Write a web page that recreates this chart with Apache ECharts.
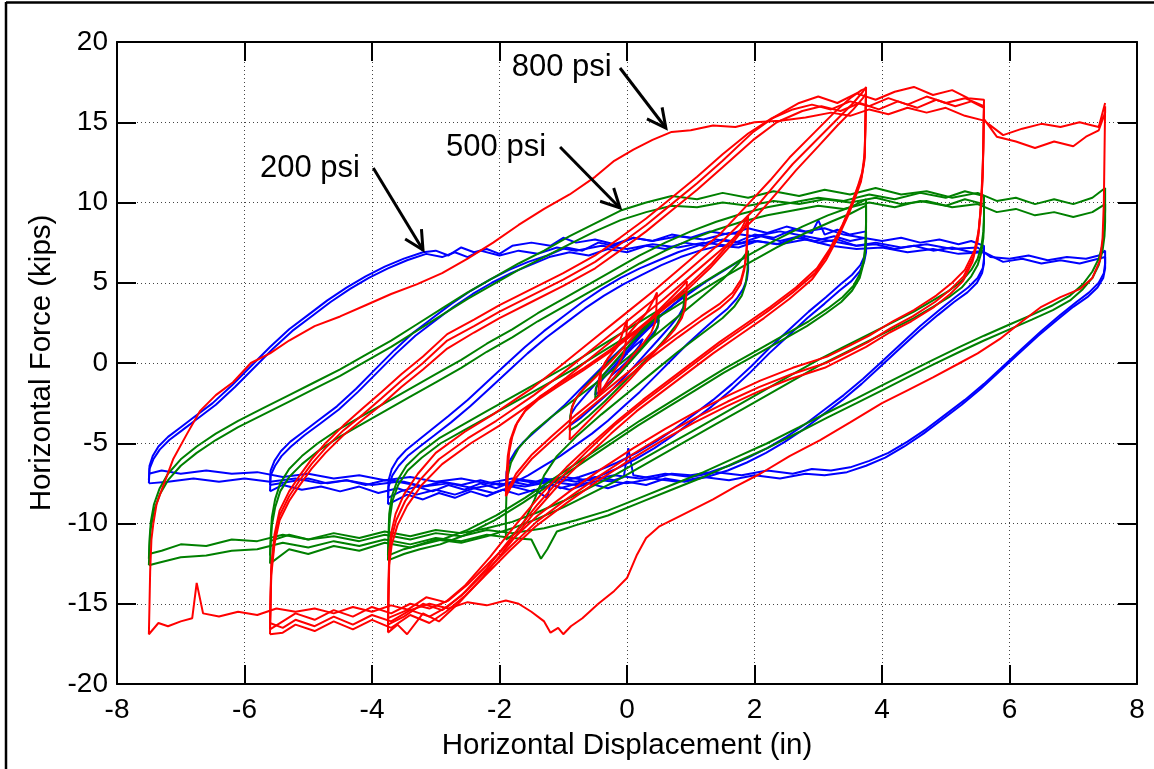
<!DOCTYPE html>
<html>
<head>
<meta charset="utf-8">
<script src="https://cdn.jsdelivr.net/npm/echarts@6/dist/echarts.min.js"></script>
<style>
html,body{margin:0;padding:0;background:#fff;}
#chart{width:1154px;height:769px;}
</style>
</head>
<body>
<div id="chart"></div>
<script>
// ---------- axis definitions ----------
const xMin = -8, xMax = 8, xStep = 2;
const yMin = -20, yMax = 20, yStep = 5;
const xTitle = 'Horizontal Displacement (in)';
const yTitle = 'Horizontal Force (kips)';

// ---------- 200 psi (blue) loops: [displacement, force] ----------
const blue75a = [[-7.5,-7.3],[-7.49,-6.4],[-7.44,-5.8],[-7.35,-5.2],[-7.2,-4.6],[-7.0,-4.0],[-6.8,-3.4],[-6.5,-2.5],[-6.2,-1.4],[-5.9,-0.2],[-5.6,1.0],[-5.3,2.1],[-5.0,3.0],[-4.7,3.9],[-4.4,4.7],[-4.1,5.4],[-3.8,6.0],[-3.5,6.5],[-3.2,6.9],[-3.0,7.0],[-2.8,6.7],[-2.6,7.2],[-2.4,6.9],[-2.2,7.1],[-2.0,6.8],[-1.8,7.3],[-1.5,7.5],[-1.2,7.3],[-1.0,7.8],[-0.8,7.5],[-0.5,7.7],[-0.2,7.4],[0.1,7.8],[0.4,7.6],[0.8,7.9],[1.2,7.7],[1.6,8.1],[2.0,7.9],[2.4,8.2],[2.8,7.9],[3.2,7.6],[3.6,7.3],[3.9,7.5],[4.3,7.2],[4.7,7.4],[5.1,7.1],[5.5,7.2],[5.7,6.6],[6.0,6.5],[6.3,6.7],[6.6,6.4],[6.9,6.6],[7.2,6.5],[7.4,6.7],[7.5,7.0],
  [7.5,6.2],[7.48,5.6],[7.4,5.0],[7.25,4.4],[7.05,3.8],[6.8,3.0],[6.5,2.0],[6.2,0.9],[5.9,-0.2],[5.6,-1.3],[5.3,-2.3],[5.0,-3.2],[4.7,-4.1],[4.4,-4.9],[4.1,-5.6],[3.8,-6.1],[3.5,-6.5],[3.2,-6.7],[2.9,-6.6],[2.6,-6.9],[2.2,-6.7],[1.8,-7.0],[1.4,-6.8],[1.0,-7.1],[0.6,-6.9],[0.2,-7.2],[-0.2,-7.0],[-0.6,-7.3],[-1.0,-7.1],[-1.4,-7.4],[-1.8,-7.2],[-2.2,-7.5],[-2.6,-7.2],[-3.0,-7.4],[-3.4,-7.1],[-3.8,-7.3],[-4.2,-7.0],[-4.6,-7.2],[-5.0,-6.9],[-5.4,-7.1],[-5.8,-6.8],[-6.2,-6.9],[-6.6,-6.7],[-7.0,-6.9],[-7.3,-6.7],[-7.5,-6.9]];
const blue75b = [[-7.5,-7.5],[-7.49,-6.6],[-7.43,-6.0],[-7.33,-5.4],[-7.18,-4.8],[-6.98,-4.2],[-6.75,-3.5],[-6.45,-2.6],[-6.15,-1.5],[-5.85,-0.3],[-5.55,0.9],[-5.25,2.0],[-4.95,2.9],[-4.65,3.8],[-4.35,4.6],[-4.05,5.3],[-3.75,5.9],[-3.45,6.4],[-3.15,6.8],[-2.9,6.6],[-2.7,6.9],[-2.5,6.6],[-2.3,7.0],[-2.0,6.7],[-1.7,7.0],[-1.4,6.8],[-1.1,7.2],[-0.8,7.0],[-0.4,7.3],[0,7.1],[0.4,7.4],[0.8,7.2],[1.2,7.5],[1.6,7.3],[2.0,7.6],[2.4,7.4],[2.8,7.7],[3.2,7.3],[3.6,7.1],[4.0,7.2],[4.4,6.9],[4.8,7.1],[5.2,6.8],[5.6,6.9],[5.9,6.3],[6.2,6.5],[6.5,6.2],[6.8,6.4],[7.1,6.2],[7.3,6.4],[7.5,6.6],
  [7.5,5.9],[7.47,5.3],[7.38,4.7],[7.22,4.1],[7.0,3.5],[6.75,2.7],[6.45,1.7],[6.15,0.6],[5.85,-0.5],[5.55,-1.6],[5.25,-2.6],[4.95,-3.5],[4.65,-4.4],[4.35,-5.2],[4.05,-5.9],[3.75,-6.4],[3.45,-6.8],[3.1,-7.0],[2.8,-6.9],[2.4,-7.2],[2.0,-7.0],[1.6,-7.3],[1.2,-7.1],[0.8,-7.4],[0.4,-7.2],[0,-7.5],[-0.4,-7.3],[-0.8,-7.6],[-1.2,-7.4],[-1.6,-7.7],[-2.0,-7.5],[-2.4,-7.8],[-2.8,-7.5],[-3.2,-7.7],[-3.6,-7.4],[-4.0,-7.6],[-4.4,-7.3],[-4.8,-7.5],[-5.2,-7.2],[-5.6,-7.4],[-6.0,-7.2],[-6.4,-7.4],[-6.8,-7.2],[-7.2,-7.4],[-7.5,-7.5]];
const blue56a = [[-5.6,-7.6],[-5.59,-6.7],[-5.53,-6.1],[-5.43,-5.5],[-5.28,-4.9],[-5.08,-4.3],[-4.85,-3.6],[-4.55,-2.7],[-4.25,-1.6],[-3.95,-0.4],[-3.65,0.8],[-3.35,1.9],[-3.05,2.8],[-2.75,3.7],[-2.45,4.5],[-2.15,5.2],[-1.85,5.8],[-1.55,6.3],[-1.25,6.7],[-0.95,7.2],[-0.7,7.0],[-0.45,7.5],[-0.2,7.3],[0.1,7.8],[0.4,7.6],[0.7,8.0],[1.0,7.8],[1.3,8.2],[1.6,8.0],[1.9,8.4],[2.2,8.1],[2.5,8.5],[2.8,8.2],[3.1,8.4],[3.4,8.0],[3.7,7.8],[4.0,7.6],[4.3,7.8],[4.6,7.5],[4.9,7.7],[5.2,7.4],[5.4,7.6],[5.6,7.3],
  [5.6,6.5],[5.58,5.9],[5.5,5.3],[5.35,4.7],[5.15,4.1],[4.9,3.3],[4.6,2.3],[4.3,1.2],[4.0,0.1],[3.7,-1.0],[3.4,-2.0],[3.1,-2.9],[2.8,-3.8],[2.5,-4.6],[2.2,-5.3],[1.9,-5.9],[1.6,-6.4],[1.3,-6.8],[1.0,-7.0],[0.7,-6.9],[0.4,-7.2],[0.1,-7.0],[0.02,-5.3],[-0.05,-7.1],[-0.2,-7.3],[-0.5,-7.1],[-0.8,-7.4],[-1.1,-7.2],[-1.4,-7.5],[-1.7,-7.3],[-2.0,-7.6],[-2.3,-7.3],[-2.6,-7.6],[-2.9,-7.4],[-3.2,-7.7],[-3.5,-7.4],[-3.8,-7.3],[-4.1,-7.6],[-4.4,-7.3],[-4.7,-7.5],[-5.0,-7.2],[-5.3,-7.4],[-5.6,-7.6]];
const blue56b = [[-5.6,-8.0],[-5.59,-7.0],[-5.52,-6.4],[-5.42,-5.8],[-5.27,-5.2],[-5.06,-4.5],[-4.82,-3.8],[-4.52,-2.9],[-4.22,-1.8],[-3.92,-0.6],[-3.62,0.6],[-3.32,1.7],[-3.02,2.6],[-2.72,3.5],[-2.42,4.3],[-2.12,5.0],[-1.82,5.6],[-1.52,6.1],[-1.22,6.6],[-0.9,6.9],[-0.6,6.7],[-0.3,7.1],[0,6.9],[0.3,7.3],[0.6,7.1],[0.9,7.5],[1.2,7.3],[1.5,7.7],[1.8,7.5],[2.1,7.9],[2.4,7.6],[2.7,7.9],[3.0,7.5],[3.3,7.7],[3.6,7.3],[3.9,7.4],[4.2,7.1],[4.5,7.3],[4.8,7.0],[5.1,7.2],[5.4,6.9],[5.6,7.0],
  [5.6,6.2],[5.57,5.6],[5.49,5.0],[5.34,4.4],[5.13,3.8],[4.88,3.0],[4.58,2.0],[4.28,0.9],[3.98,-0.2],[3.68,-1.3],[3.38,-2.3],[3.08,-3.2],[2.78,-4.1],[2.48,-4.9],[2.18,-5.6],[1.88,-6.2],[1.58,-6.7],[1.25,-7.1],[0.9,-7.4],[0.6,-7.2],[0.3,-7.6],[0,-7.4],[-0.3,-7.8],[-0.6,-7.5],[-0.9,-7.9],[-1.2,-7.6],[-1.5,-8.0],[-1.8,-7.7],[-2.1,-8.1],[-2.4,-7.8],[-2.7,-8.2],[-3.0,-7.9],[-3.3,-8.2],[-3.6,-7.8],[-3.9,-8.1],[-4.2,-7.7],[-4.5,-8.0],[-4.8,-7.7],[-5.1,-7.9],[-5.4,-7.6],[-5.6,-8.0]];
const blue375a = [[-3.75,-8.4],[-3.74,-7.3],[-3.69,-6.6],[-3.6,-6.0],[-3.46,-5.4],[-3.27,-4.8],[-3.05,-4.1],[-2.8,-3.3],[-2.5,-2.3],[-2.2,-1.2],[-1.9,-0.1],[-1.6,1.0],[-1.3,2.0],[-1.0,2.9],[-0.7,3.8],[-0.4,4.6],[-0.1,5.3],[0.2,5.9],[0.5,6.4],[0.8,6.9],[1.1,7.3],[1.4,7.7],[1.7,7.5],[2.0,8.0],[2.3,7.8],[2.6,8.3],[2.9,8.1],[3.0,8.9],[3.1,8.0],[3.3,8.3],[3.5,8.0],[3.75,8.2],
  [3.75,7.3],[3.73,6.7],[3.66,6.1],[3.53,5.5],[3.35,4.9],[3.12,4.1],[2.85,3.2],[2.55,2.1],[2.25,1.0],[1.95,-0.2],[1.65,-1.3],[1.35,-2.3],[1.05,-3.2],[0.75,-4.1],[0.45,-4.9],[0.15,-5.6],[-0.15,-6.2],[-0.45,-6.7],[-0.75,-7.1],[-1.05,-7.4],[-1.3,-7.2],[-1.55,-7.6],[-1.8,-7.4],[-2.05,-7.8],[-2.3,-7.5],[-2.55,-7.9],[-2.8,-7.6],[-3.05,-8.0],[-3.3,-7.7],[-3.55,-8.0],[-3.75,-8.4]];
const blue375b = [[-3.75,-8.8],[-3.74,-7.7],[-3.68,-7.0],[-3.58,-6.4],[-3.44,-5.8],[-3.25,-5.2],[-3.02,-4.5],[-2.76,-3.7],[-2.46,-2.7],[-2.16,-1.6],[-1.86,-0.5],[-1.56,0.6],[-1.26,1.6],[-0.96,2.5],[-0.66,3.4],[-0.36,4.2],[-0.06,4.9],[0.24,5.5],[0.54,6.1],[0.84,6.6],[1.14,7.0],[1.45,7.3],[1.75,7.2],[2.05,7.6],[2.35,7.4],[2.65,7.8],[2.95,7.6],[3.25,7.9],[3.5,7.6],[3.75,7.8],
  [3.75,6.9],[3.72,6.3],[3.65,5.7],[3.52,5.1],[3.33,4.5],[3.1,3.7],[2.83,2.8],[2.53,1.7],[2.23,0.6],[1.93,-0.6],[1.63,-1.7],[1.33,-2.7],[1.03,-3.6],[0.73,-4.5],[0.43,-5.3],[0.13,-6.0],[-0.17,-6.6],[-0.47,-7.1],[-0.77,-7.5],[-1.05,-7.8],[-1.2,-7.5],[-1.25,-8.4],[-1.45,-7.9],[-1.7,-8.2],[-1.95,-7.9],[-2.2,-8.3],[-2.45,-8.0],[-2.7,-8.4],[-2.95,-8.1],[-3.2,-8.5],[-3.45,-8.2],[-3.65,-8.6],[-3.75,-8.8]];
const blue19 = [[-1.9,-7.8],[-1.89,-6.8],[-1.84,-6.1],[-1.75,-5.5],[-1.62,-4.9],[-1.45,-4.3],[-1.25,-3.6],[-1.0,-2.7],[-0.75,-1.7],[-0.5,-0.7],[-0.25,0.3],[0,1.2],[0.25,2.1],[0.5,2.9],[0.75,3.7],[1.0,4.4],[1.25,5.1],[1.5,5.7],[1.7,6.2],[1.9,6.7],
  [1.9,5.8],[1.88,5.2],[1.82,4.6],[1.72,4.0],[1.58,3.4],[1.4,2.8],[1.2,2.1],[0.95,1.2],[0.7,0.2],[0.45,-0.8],[0.2,-1.8],[-0.05,-2.7],[-0.3,-3.6],[-0.55,-4.4],[-0.8,-5.1],[-1.05,-5.8],[-1.3,-6.4],[-1.55,-7.0],[-1.75,-7.4],[-1.9,-7.8]];
const blue09 = [[-0.9,-3.9],[-0.88,-3.2],[-0.8,-2.7],[-0.65,-2.0],[-0.45,-1.1],[-0.2,0.0],[0.05,1.1],[0.3,2.1],[0.55,3.0],[0.75,3.7],[0.9,4.2],[0.89,3.5],[0.82,3.0],[0.68,2.3],[0.48,1.4],[0.23,0.3],[-0.02,-0.8],[-0.27,-1.8],[-0.52,-2.7],[-0.72,-3.4],[-0.9,-3.9]];
const blue05 = [[-0.5,-2.0],[-0.48,-1.5],[-0.38,-1.0],[-0.2,-0.2],[0,0.7],[0.2,1.6],[0.38,2.3],[0.5,2.7],[0.48,2.2],[0.38,1.7],[0.2,0.9],[0,0],[-0.2,-0.9],[-0.38,-1.6],[-0.5,-2.0]];
const blue025 = [[-0.25,-0.8],[-0.2,-0.4],[-0.1,0.1],[0,0.6],[0.1,1.0],[0.25,1.5],[0.2,1.1],[0.1,0.6],[0,0.1],[-0.1,-0.3],[-0.25,-0.8]];

// ---------- 500 psi (green) loops ----------
const green75a = [[-7.5,-12.2],[-7.49,-11.0],[-7.47,-9.9],[-7.42,-8.8],[-7.33,-7.8],[-7.2,-6.9],[-7.0,-6.0],[-6.75,-5.2],[-6.45,-4.4],[-6.1,-3.6],[-5.7,-2.8],[-5.3,-2.0],[-4.9,-1.2],[-4.5,-0.4],[-4.1,0.5],[-3.7,1.4],[-3.3,2.4],[-2.9,3.4],[-2.5,4.4],[-2.1,5.3],[-1.7,6.2],[-1.3,7.0],[-0.9,7.9],[-0.5,8.7],[-0.1,9.5],[0.3,10.0],[0.7,10.4],[1.1,10.2],[1.5,10.6],[1.9,10.3],[2.3,10.7],[2.7,10.4],[3.1,10.8],[3.5,10.5],[3.9,10.9],[4.3,10.5],[4.7,10.7],[5.1,10.3],[5.5,10.6],[5.8,10.1],[6.1,10.3],[6.4,9.9],[6.7,10.2],[7.0,9.9],[7.3,10.3],[7.5,10.9],
  [7.5,9.5],[7.49,8.4],[7.46,7.4],[7.4,6.5],[7.3,5.7],[7.15,4.9],[6.95,4.2],[6.68,3.6],[6.35,3.0],[6.0,2.4],[5.6,1.7],[5.22,1.0],[4.8,0.2],[4.4,-0.6],[4.0,-1.4],[3.6,-2.2],[3.14,-3.1],[2.7,-4.0],[2.2,-5.0],[1.7,-5.9],[1.2,-6.8],[0.7,-7.6],[0.2,-8.4],[-0.3,-9.2],[-0.8,-9.8],[-1.3,-10.3],[-1.8,-10.6],[-2.2,-10.4],[-2.6,-10.8],[-3.0,-10.6],[-3.4,-11.0],[-3.8,-10.7],[-4.2,-11.1],[-4.6,-10.8],[-5.0,-11.0],[-5.4,-10.7],[-5.8,-11.1],[-6.2,-11.0],[-6.6,-11.4],[-7.0,-11.3],[-7.3,-11.7],[-7.5,-11.9]];
const green75b = [[-7.5,-12.6],[-7.49,-11.4],[-7.47,-10.3],[-7.42,-9.2],[-7.33,-8.2],[-7.2,-7.3],[-7.0,-6.4],[-6.75,-5.6],[-6.45,-4.8],[-6.1,-4.0],[-5.7,-3.2],[-5.3,-2.4],[-4.9,-1.6],[-4.5,-0.8],[-4.1,0.1],[-3.7,1.0],[-3.3,2.0],[-2.9,3.0],[-2.5,4.0],[-2.1,4.9],[-1.7,5.8],[-1.3,6.6],[-0.9,7.4],[-0.5,8.2],[-0.1,8.9],[0.3,9.4],[0.7,9.8],[1.1,9.7],[1.5,10.0],[1.9,9.8],[2.3,10.1],[2.7,9.9],[3.1,10.2],[3.5,10.0],[3.9,10.3],[4.3,9.9],[4.7,10.1],[5.1,9.7],[5.5,9.9],[5.8,9.4],[6.1,9.6],[6.4,9.2],[6.7,9.4],[7.0,9.1],[7.3,9.4],[7.5,9.9],
  [7.5,8.8],[7.49,7.9],[7.46,7.0],[7.4,6.1],[7.3,5.3],[7.15,4.6],[6.95,3.9],[6.68,3.3],[6.35,2.7],[6.0,2.1],[5.6,1.4],[5.22,0.7],[4.8,-0.1],[4.4,-0.9],[4.0,-1.7],[3.6,-2.5],[3.14,-3.4],[2.7,-4.3],[2.2,-5.3],[1.7,-6.2],[1.2,-7.1],[0.7,-7.9],[0.2,-8.7],[-0.3,-9.5],[-0.8,-10.1],[-1.1,-10.5],[-1.25,-11.6],[-1.35,-12.2],[-1.5,-11.0],[-1.8,-10.9],[-2.2,-10.7],[-2.6,-11.1],[-3.0,-10.9],[-3.4,-11.3],[-3.8,-11.0],[-4.2,-11.4],[-4.6,-11.1],[-5.0,-11.5],[-5.4,-11.2],[-5.8,-11.6],[-6.2,-11.7],[-6.6,-12.0],[-7.0,-12.1],[-7.3,-12.4],[-7.5,-12.6]];
const green56a = [[-5.6,-12.0],[-5.59,-10.8],[-5.57,-9.6],[-5.52,-8.5],[-5.44,-7.5],[-5.3,-6.6],[-5.1,-5.8],[-4.85,-5.0],[-4.55,-4.2],[-4.2,-3.4],[-3.8,-2.5],[-3.4,-1.6],[-3.0,-0.7],[-2.6,0.2],[-2.2,1.2],[-1.8,2.1],[-1.4,3.1],[-1.0,4.0],[-0.6,4.9],[-0.2,5.8],[0.2,6.7],[0.6,7.5],[1.0,8.2],[1.4,8.8],[1.8,9.3],[2.2,9.7],[2.6,10.0],[3.0,10.3],[3.4,10.1],[3.8,10.5],[4.2,10.2],[4.6,10.6],[5.0,10.3],[5.3,10.7],[5.6,10.4],
  [5.6,9.2],[5.59,8.2],[5.56,7.3],[5.5,6.5],[5.4,5.8],[5.25,5.1],[5.05,4.5],[4.8,3.9],[4.5,3.2],[4.15,2.5],[3.8,1.8],[3.4,1.0],[3.0,0.2],[2.6,-0.7],[2.2,-1.6],[1.8,-2.5],[1.4,-3.4],[1.0,-4.3],[0.6,-5.2],[0.2,-6.1],[-0.2,-7.0],[-0.6,-7.8],[-1.0,-8.6],[-1.4,-9.3],[-1.8,-9.9],[-2.2,-10.3],[-2.6,-10.6],[-3.0,-10.4],[-3.4,-10.8],[-3.8,-10.5],[-4.2,-10.9],[-4.6,-10.6],[-5.0,-11.0],[-5.3,-10.7],[-5.6,-11.1]];
const green56b = [[-5.6,-12.5],[-5.59,-11.3],[-5.57,-10.1],[-5.52,-9.0],[-5.44,-8.0],[-5.3,-7.1],[-5.1,-6.3],[-4.85,-5.5],[-4.55,-4.7],[-4.2,-3.9],[-3.8,-3.0],[-3.4,-2.1],[-3.0,-1.2],[-2.6,-0.3],[-2.2,0.7],[-1.8,1.6],[-1.4,2.6],[-1.0,3.5],[-0.6,4.4],[-0.2,5.3],[0.2,6.2],[0.6,7.0],[1.0,7.7],[1.4,8.3],[1.8,8.8],[2.2,9.2],[2.6,9.5],[3.0,9.8],[3.4,9.6],[3.8,10.0],[4.2,9.7],[4.6,10.1],[5.0,9.8],[5.3,10.2],[5.6,9.9],
  [5.6,8.8],[5.59,7.8],[5.56,6.9],[5.5,6.1],[5.4,5.4],[5.25,4.7],[5.05,4.1],[4.8,3.5],[4.5,2.8],[4.15,2.1],[3.8,1.4],[3.4,0.6],[3.0,-0.2],[2.6,-1.1],[2.2,-2.0],[1.8,-2.9],[1.4,-3.8],[1.0,-4.7],[0.6,-5.6],[0.2,-6.5],[-0.2,-7.4],[-0.6,-8.2],[-1.0,-9.0],[-1.4,-9.7],[-1.8,-10.3],[-2.2,-10.8],[-2.6,-11.2],[-3.0,-11.0],[-3.4,-11.5],[-3.8,-11.2],[-4.2,-11.7],[-4.6,-11.4],[-5.0,-11.9],[-5.3,-11.6],[-5.6,-12.5]];
const green375a = [[-3.75,-12.0],[-3.74,-10.6],[-3.73,-9.4],[-3.69,-8.3],[-3.6,-7.3],[-3.46,-6.4],[-3.25,-5.6],[-2.95,-4.7],[-2.6,-3.9],[-2.2,-3.0],[-1.75,-2.0],[-1.3,-1.0],[-0.85,0.0],[-0.4,1.1],[0.05,2.2],[0.5,3.3],[0.95,4.4],[1.4,5.5],[1.85,6.6],[2.3,7.6],[2.75,8.5],[3.15,9.2],[3.5,9.7],[3.75,10.2],
  [3.75,8.8],[3.74,7.5],[3.72,6.5],[3.66,5.6],[3.55,4.8],[3.38,4.1],[3.15,3.4],[2.85,2.6],[2.45,1.7],[2.0,0.7],[1.55,-0.3],[1.1,-1.4],[0.65,-2.5],[0.2,-3.6],[-0.25,-4.8],[-0.7,-6.0],[-1.15,-7.2],[-1.6,-8.4],[-2.05,-9.5],[-2.5,-10.4],[-2.9,-11.0],[-3.2,-11.3],[-3.5,-11.6],[-3.75,-12.0]];
const green375b = [[-3.75,-12.3],[-3.74,-10.9],[-3.72,-9.7],[-3.68,-8.6],[-3.59,-7.6],[-3.44,-6.7],[-3.22,-5.9],[-2.92,-5.0],[-2.56,-4.2],[-2.15,-3.3],[-1.7,-2.3],[-1.25,-1.3],[-0.8,-0.3],[-0.35,0.8],[0.1,1.9],[0.55,3.0],[1.0,4.1],[1.45,5.2],[1.9,6.2],[2.35,7.2],[2.8,8.1],[3.2,8.8],[3.5,9.3],[3.75,9.8],
  [3.75,8.4],[3.74,7.2],[3.71,6.2],[3.65,5.3],[3.53,4.5],[3.36,3.8],[3.12,3.1],[2.82,2.3],[2.42,1.4],[1.97,0.4],[1.52,-0.6],[1.07,-1.7],[0.62,-2.8],[0.17,-3.9],[-0.28,-5.1],[-0.73,-6.3],[-1.18,-7.5],[-1.63,-8.7],[-2.08,-9.8],[-2.53,-10.7],[-2.93,-11.3],[-3.25,-11.6],[-3.5,-11.9],[-3.75,-12.3]];
const green19 = [[-1.9,-11.0],[-1.9,-9.5],[-1.89,-8.0],[-1.87,-7.0],[-1.82,-6.2],[-1.7,-5.3],[-1.5,-4.4],[-1.2,-3.4],[-0.8,-2.2],[-0.4,-1.0],[0,0.3],[0.4,1.6],[0.8,2.9],[1.2,4.2],[1.5,5.2],[1.75,6.2],[1.9,7.0],
  [1.89,5.8],[1.86,4.9],[1.8,4.2],[1.68,3.5],[1.5,2.8],[1.2,1.9],[0.8,0.7],[0.4,-0.6],[0,-1.9],[-0.4,-3.2],[-0.8,-4.6],[-1.1,-5.8],[-1.3,-7.0],[-1.45,-8.5],[-1.6,-9.8],[-1.75,-10.6],[-1.9,-11.0]];
const green09 = [[-0.9,-4.2],[-0.89,-3.3],[-0.86,-2.7],[-0.78,-2.1],[-0.62,-1.3],[-0.4,-0.4],[-0.15,0.6],[0.1,1.6],[0.35,2.6],[0.6,3.5],[0.78,4.1],[0.9,4.5],[0.89,3.6],[0.86,3.0],[0.78,2.4],[0.62,1.6],[0.4,0.6],[0.15,-0.4],[-0.1,-1.4],[-0.35,-2.4],[-0.6,-3.3],[-0.78,-3.9],[-0.9,-4.2]];
const green05 = [[-0.5,-2.3],[-0.49,-1.6],[-0.43,-1.0],[-0.3,-0.4],[-0.1,0.5],[0.1,1.4],[0.3,2.2],[0.45,2.8],[0.5,3.1],[0.49,2.4],[0.43,1.8],[0.3,1.2],[0.1,0.3],[-0.1,-0.6],[-0.3,-1.4],[-0.45,-2.0],[-0.5,-2.3]];

// ---------- 800 psi (red) loops ----------
const red75 = [[5.6,15.2],[5.8,14.1],[6.1,13.8],[6.4,13.4],[6.7,13.8],[7.0,13.5],[7.2,14.1],[7.4,14.5],[7.5,15.6],
  [7.5,16.0],[7.49,13.0],[7.48,10.0],[7.46,7.8],[7.42,6.4],[7.3,5.3],[7.1,4.6],[6.8,4.1],[6.5,3.5],[6.2,2.6],[5.85,1.5],[5.5,0.6],[5.22,0.0],[4.8,-0.9],[4.4,-1.7],[4.0,-2.5],[3.5,-3.7],[3.03,-4.8],[2.55,-5.8],[2.09,-6.9],[1.7,-7.7],[1.35,-8.5],[0.9,-9.4],[0.5,-10.2],[0.3,-10.9],[0.15,-12.0],[0.0,-13.4],[-0.2,-14.2],[-0.45,-15.0],[-0.7,-15.9],[-0.88,-16.4],[-1.0,-16.9],[-1.08,-16.5],[-1.2,-16.8],[-1.3,-16.1],[-1.5,-15.5],[-1.7,-15.0],[-1.9,-14.8],[-2.2,-15.1],[-2.5,-14.9],[-2.8,-15.3],[-3.1,-15.0],[-3.4,-15.4],[-3.7,-15.1],[-4.0,-15.5],[-4.3,-15.2],[-4.6,-15.6],[-4.9,-15.3],[-5.2,-15.5],[-5.5,-15.3],[-5.8,-15.7],[-6.1,-15.5],[-6.4,-15.8],[-6.65,-15.6],[-6.75,-13.7],[-6.82,-15.9],[-7.0,-16.1],[-7.2,-16.4],[-7.35,-16.2],[-7.5,-16.9],
  [-7.49,-15.0],[-7.48,-13.0],[-7.46,-11.0],[-7.43,-10.0],[-7.38,-8.8],[-7.28,-7.7],[-7.12,-6.0],[-6.9,-4.4],[-6.7,-3.0],[-6.45,-2.0],[-6.18,-1.2],[-5.9,0.0],[-5.6,0.6],[-5.3,1.4],[-4.9,2.3],[-4.5,2.9],[-4.1,3.6],[-3.7,4.3],[-3.3,4.9],[-2.9,5.6],[-2.5,6.5],[-2.1,7.5],[-1.7,8.6],[-1.3,9.6],[-0.9,10.5],[-0.5,11.6],[-0.2,12.6],[0.1,13.3],[0.4,13.9],[0.7,14.4],[1.0,14.5],[1.35,14.8],[1.7,14.7],[2.0,15.0],[2.4,15.1],[2.8,15.3],[3.2,15.6],[3.5,15.4],[3.8,15.8],[4.1,15.5],[4.4,15.9],[4.7,15.6],[5.0,15.9],[5.3,15.4],[5.6,15.1],[5.9,14.2],[6.2,14.6],[6.5,14.9],[6.8,14.7],[7.1,15.0],[7.3,14.8],[7.4,14.7],[7.5,16.2]];
const red56a = [[-5.6,-16.6],[-5.59,-14.5],[-5.58,-12.9],[-5.53,-11.0],[-5.45,-9.5],[-5.3,-8.3],[-5.15,-7.4],[-4.95,-6.3],[-4.73,-5.3],[-4.45,-4.2],[-4.14,-3.2],[-3.85,-2.2],[-3.54,-1.1],[-3.2,0.0],[-2.82,1.4],[-2.4,2.3],[-2.0,3.2],[-1.5,4.2],[-1.0,5.2],[-0.5,6.3],[-0.11,7.4],[0.3,8.6],[0.7,9.9],[1.1,11.2],[1.5,12.6],[1.98,14.4],[2.3,15.3],[2.7,16.2],[3.0,16.6],[3.3,16.2],[3.6,16.8],[3.9,16.4],[4.2,16.9],[4.5,17.2],[4.8,16.7],[5.1,17.0],[5.35,16.5],[5.6,16.4],
  [5.59,14.0],[5.58,12.0],[5.56,10.0],[5.52,8.3],[5.45,7.0],[5.3,5.8],[5.1,5.0],[4.85,4.2],[4.5,3.3],[4.17,2.6],[3.8,1.7],[3.5,1.1],[3.14,0.4],[2.6,-0.3],[2.09,-1.1],[1.6,-2.0],[1.1,-3.0],[0.6,-4.1],[0.1,-5.3],[-0.4,-6.6],[-0.9,-8.0],[-1.4,-9.5],[-1.8,-11.0],[-2.2,-12.6],[-2.5,-13.8],[-2.8,-14.8],[-3.1,-15.3],[-3.4,-15.0],[-3.7,-15.6],[-4.0,-15.2],[-4.3,-15.8],[-4.6,-15.4],[-4.9,-16.0],[-5.2,-15.6],[-5.4,-16.1],[-5.6,-16.6]];
const red56b = [[-5.6,-16.2],[-5.59,-14.2],[-5.58,-12.6],[-5.53,-10.7],[-5.45,-9.2],[-5.3,-8.0],[-5.15,-7.1],[-4.95,-6.0],[-4.73,-5.0],[-4.45,-3.9],[-4.14,-2.8],[-3.85,-1.8],[-3.54,-0.7],[-3.2,0.4],[-2.82,1.8],[-2.4,2.7],[-2.0,3.6],[-1.5,4.6],[-1.0,5.6],[-0.5,6.7],[-0.11,7.8],[0.3,9.0],[0.7,10.3],[1.1,11.6],[1.5,13.0],[1.9,14.3],[2.25,15.2],[2.6,15.8],[2.9,16.1],[3.2,15.8],[3.5,16.3],[3.8,16.0],[4.1,16.5],[4.4,16.1],[4.7,16.6],[5.0,16.2],[5.3,16.5],[5.6,16.0],
  [5.59,13.6],[5.58,11.6],[5.55,9.6],[5.51,7.9],[5.43,6.6],[5.28,5.4],[5.08,4.6],[4.83,3.8],[4.48,2.9],[4.15,2.2],[3.78,1.3],[3.48,0.7],[3.12,0.0],[2.58,-0.7],[2.07,-1.5],[1.58,-2.4],[1.08,-3.4],[0.58,-4.5],[0.08,-5.7],[-0.42,-7.0],[-0.92,-8.4],[-1.42,-9.9],[-1.82,-11.4],[-2.22,-13.0],[-2.52,-14.2],[-2.82,-15.2],[-3.1,-15.8],[-3.4,-15.4],[-3.7,-16.1],[-4.0,-15.7],[-4.3,-16.3],[-4.6,-15.8],[-4.9,-16.4],[-5.2,-16.0],[-5.4,-16.5],[-5.6,-16.2]];
const red56c = [[-5.6,-16.9],[-5.59,-14.8],[-5.58,-13.2],[-5.53,-11.3],[-5.45,-9.8],[-5.3,-8.6],[-5.15,-7.7],[-4.95,-6.6],[-4.73,-5.6],[-4.45,-4.5],[-4.14,-3.5],[-3.85,-2.6],[-3.54,-1.5],[-3.2,-0.4],[-2.82,0.9],[-2.4,1.9],[-2.0,2.8],[-1.5,3.8],[-1.0,4.8],[-0.5,5.9],[-0.11,7.0],[0.3,8.2],[0.7,9.5],[1.1,10.8],[1.5,12.2],[1.98,13.9],[2.35,15.0],[2.75,15.7],[3.05,16.0],[3.35,15.7],[3.65,16.2],[3.95,15.8],[4.25,16.3],[4.55,15.9],[4.85,16.4],[5.15,16.0],[5.4,16.3],[5.6,15.9],
  [5.59,13.3],[5.57,11.3],[5.54,9.3],[5.5,7.6],[5.42,6.3],[5.27,5.1],[5.07,4.3],[4.82,3.5],[4.46,2.6],[4.12,1.9],[3.75,1.0],[3.45,0.4],[3.1,-0.3],[2.56,-1.0],[2.05,-1.8],[1.56,-2.7],[1.06,-3.7],[0.56,-4.8],[0.06,-6.0],[-0.44,-7.3],[-0.94,-8.7],[-1.44,-10.2],[-1.84,-11.7],[-2.24,-13.3],[-2.54,-14.5],[-2.84,-15.5],[-3.1,-16.2],[-3.4,-15.7],[-3.7,-16.5],[-4.0,-16.0],[-4.3,-16.6],[-4.6,-16.1],[-4.9,-16.7],[-5.2,-16.3],[-5.4,-16.8],[-5.6,-16.9]];
const red375a = [[-3.75,-16.3],[-3.74,-14.0],[-3.73,-12.2],[-3.7,-11.0],[-3.62,-9.8],[-3.48,-8.6],[-3.25,-7.3],[-2.95,-6.0],[-2.5,-4.7],[-2.05,-3.6],[-1.46,-2.0],[-1.0,-0.6],[-0.5,1.0],[0,2.6],[0.5,4.2],[1.0,5.9],[1.5,7.6],[1.98,9.5],[2.3,11.0],[2.6,12.4],[3.0,14.0],[3.3,15.2],[3.55,16.2],[3.7,16.9],[3.75,17.2],
  [3.74,15.0],[3.73,12.8],[3.68,11.6],[3.6,10.7],[3.5,9.6],[3.35,8.3],[3.15,6.8],[2.95,5.6],[2.6,4.4],[2.2,3.2],[1.8,2.1],[1.4,1.0],[1.0,-0.2],[0.6,-1.4],[0.2,-2.6],[-0.2,-3.9],[-0.6,-5.4],[-1.0,-7.0],[-1.4,-8.8],[-1.8,-10.8],[-2.2,-12.8],[-2.6,-14.5],[-2.9,-15.4],[-3.2,-15.0],[-3.5,-15.8],[-3.75,-16.3]];
const red375b = [[-3.75,-16.8],[-3.74,-14.5],[-3.73,-12.6],[-3.69,-11.3],[-3.6,-10.1],[-3.45,-8.9],[-3.22,-7.6],[-2.9,-6.3],[-2.45,-5.0],[-2.0,-3.9],[-1.42,-2.3],[-0.95,-0.9],[-0.45,0.7],[0.05,2.3],[0.55,3.9],[1.05,5.6],[1.55,7.3],[2.0,9.0],[2.35,10.6],[2.65,12.0],[3.0,13.5],[3.3,14.8],[3.55,15.8],[3.7,16.5],[3.75,16.8],
  [3.74,14.6],[3.72,12.5],[3.67,11.3],[3.58,10.3],[3.47,9.2],[3.32,7.9],[3.12,6.4],[2.9,5.2],[2.55,4.0],[2.15,2.8],[1.75,1.7],[1.35,0.6],[0.95,-0.6],[0.55,-1.8],[0.15,-3.0],[-0.25,-4.4],[-0.65,-5.9],[-1.05,-7.5],[-1.45,-9.3],[-1.85,-11.3],[-2.25,-13.3],[-2.65,-15.0],[-2.95,-16.1],[-3.2,-15.6],[-3.45,-16.9],[-3.6,-16.3],[-3.75,-16.8]];
const red375c = [[-3.75,-15.9],[-3.74,-13.6],[-3.73,-11.8],[-3.7,-10.6],[-3.63,-9.4],[-3.5,-8.2],[-3.28,-6.9],[-3.0,-5.6],[-2.55,-4.3],[-2.1,-3.2],[-1.5,-1.6],[-1.05,-0.2],[-0.55,1.4],[-0.05,3.0],[0.45,4.6],[0.95,6.3],[1.45,8.0],[1.9,9.9],[2.25,11.4],[2.55,12.8],[2.95,14.4],[3.25,15.6],[3.5,16.5],[3.68,17.0],[3.75,17.1],
  [3.74,15.2],[3.73,13.1],[3.69,11.9],[3.62,11.0],[3.52,9.9],[3.38,8.6],[3.18,7.1],[2.98,5.9],[2.65,4.7],[2.25,3.5],[1.85,2.4],[1.45,1.3],[1.05,0.1],[0.65,-1.1],[0.25,-2.3],[-0.15,-3.6],[-0.55,-5.0],[-0.95,-6.5],[-1.35,-8.2],[-1.75,-10.1],[-2.15,-12.1],[-2.55,-13.9],[-2.85,-14.9],[-3.15,-14.6],[-3.45,-15.4],[-3.75,-15.9]];
const red19a = [[-1.9,-8.3],[-1.89,-7.0],[-1.87,-5.8],[-1.83,-4.8],[-1.75,-3.9],[-1.6,-3.0],[-1.4,-2.3],[-1.1,-1.5],[-0.7,-0.5],[-0.3,0.6],[0.1,1.8],[0.5,3.1],[0.9,4.4],[1.3,5.9],[1.6,7.2],[1.8,8.2],[1.9,8.9],
  [1.87,6.8],[1.84,5.8],[1.78,4.9],[1.65,4.1],[1.45,3.4],[1.15,2.6],[0.8,1.6],[0.4,0.4],[0,-0.9],[-0.4,-2.2],[-0.8,-3.5],[-1.2,-4.9],[-1.5,-6.0],[-1.75,-7.2],[-1.9,-8.3]];
const red19b = [[-1.88,-8.0],[-1.87,-6.8],[-1.85,-5.6],[-1.8,-4.6],[-1.72,-3.7],[-1.57,-2.8],[-1.37,-2.1],[-1.07,-1.3],[-0.67,-0.3],[-0.27,0.8],[0.13,2.0],[0.53,3.3],[0.93,4.7],[1.33,6.2],[1.62,7.5],[1.8,8.4],[1.9,9.2],
  [1.88,7.1],[1.85,6.1],[1.79,5.2],[1.66,4.4],[1.46,3.7],[1.16,2.9],[0.81,1.9],[0.41,0.7],[0.01,-0.6],[-0.39,-1.9],[-0.79,-3.2],[-1.19,-4.6],[-1.49,-5.7],[-1.74,-6.9],[-1.88,-8.0]];
const red09 = [[-0.9,-4.8],[-0.89,-3.6],[-0.87,-2.9],[-0.82,-2.3],[-0.7,-1.7],[-0.5,-0.9],[-0.25,0.1],[0,1.2],[0.25,2.3],[0.5,3.3],[0.7,4.1],[0.85,4.7],[0.94,5.1],[0.93,4.2],[0.91,3.4],[0.86,2.8],[0.75,2.1],[0.55,1.2],[0.3,0.1],[0.05,-1.0],[-0.2,-2.0],[-0.45,-3.0],[-0.65,-3.8],[-0.8,-4.4],[-0.9,-4.8]];
const red05 = [[-0.45,-2.0],[-0.44,-1.0],[-0.4,-0.4],[-0.3,0.3],[-0.15,1.0],[0,1.7],[0.15,2.4],[0.3,3.1],[0.4,3.8],[0.47,4.4],[0.46,3.3],[0.44,2.5],[0.38,1.9],[0.25,1.2],[0.1,0.5],[-0.05,-0.2],[-0.2,-0.9],[-0.33,-1.5],[-0.45,-2.0]];
const red025 = [[-0.42,-1.9],[-0.41,-0.6],[-0.35,0.0],[-0.2,0.8],[-0.1,1.5],[0,2.7],[-0.01,1.5],[-0.05,0.6],[-0.15,-0.2],[-0.3,-1.1],[-0.42,-1.9]];

// ---------- annotations (label text, arrow tail, arrow tip in data units) ----------
const annoText = ['200 psi', '500 psi', '800 psi'];
const annoLabelAt = [[-4.19, 12.15], [-1.27, 13.4], [-0.24, 18.44]];
const annoTail = [[-3.98, 12.15], [-1.05, 13.46], [-0.11, 18.38]];
const annoTip = [[-3.2, 7.04], [-0.11, 9.66], [0.61, 14.64]];

// ---------- build ----------
const groups = [
  {color: '#0000ff', loops: [blue75a, blue75b, blue56a, blue56b, blue375a, blue375b, blue19, blue09, blue05, blue025]},
  {color: '#008000', loops: [green75a, green75b, green56a, green56b, green375a, green375b, green19, green09, green05]},
  {color: '#ff0000', loops: [red75, red56a, red56b, red56c, red375a, red375b, red375c, red19a, red19b, red09, red05, red025]}
];
const series = [];
groups.forEach(g => g.loops.forEach(d => series.push({
  type: 'line', data: d, showSymbol: false, symbol: 'none', silent: true,
  lineStyle: {color: g.color, width: 2}, z: 3
})));

const FONT = '"Liberation Sans", Arial, Helvetica, sans-serif';
const tickCommon = {show: true, inside: true, length: 19, lineStyle: {color: '#000', width: 2}};
const lineCommon = {show: true, onZero: false, lineStyle: {color: '#000', width: 2}};
const splitCommon = {show: true, lineStyle: {color: '#444', width: 1, type: [1, 3]}};

const chart = echarts.init(document.getElementById('chart'), null, {renderer: 'canvas'});
chart.setOption({
  animation: false,
  backgroundColor: '#fff',
  grid: {left: 117, top: 42, right: 17, bottom: 85, containLabel: false},
  xAxis: [
    {type: 'value', position: 'bottom', min: xMin, max: xMax, interval: xStep,
     axisLine: lineCommon, axisTick: tickCommon, splitLine: splitCommon,
     axisLabel: {color: '#000', fontSize: 28, fontFamily: FONT, margin: 12},
     name: xTitle, nameLocation: 'middle', nameGap: 47,
     nameTextStyle: {color: '#000', fontSize: 29.5, fontFamily: FONT}},
    {type: 'value', position: 'top', min: xMin, max: xMax, interval: xStep,
     axisLine: lineCommon, axisTick: tickCommon, splitLine: {show: false}, axisLabel: {show: false}}
  ],
  yAxis: [
    {type: 'value', position: 'left', min: yMin, max: yMax, interval: yStep,
     axisLine: lineCommon, axisTick: tickCommon, splitLine: splitCommon,
     axisLabel: {color: '#000', fontSize: 28, fontFamily: FONT, margin: 9},
     name: yTitle, nameLocation: 'middle', nameGap: 60, nameRotate: 90,
     nameTextStyle: {color: '#000', fontSize: 29.5, fontFamily: FONT}},
    {type: 'value', position: 'right', min: yMin, max: yMax, interval: yStep,
     axisLine: lineCommon, axisTick: tickCommon, splitLine: {show: false}, axisLabel: {show: false}}
  ],
  series: series
});

// annotations & figure frame
const toPx = p => chart.convertToPixel({xAxisIndex: 0, yAxisIndex: 0}, p);
const graphics = [
  {type: 'line', shape: {x1: 6, y1: 2.5, x2: 1154, y2: 2.5}, style: {stroke: '#000', lineWidth: 2.5}, z: 100},
  {type: 'line', shape: {x1: 6, y1: 2, x2: 6, y2: 769}, style: {stroke: '#000', lineWidth: 2.5}, z: 100}
];
annoText.forEach((t, i) => {
  const lp = toPx(annoLabelAt[i]);
  const a = toPx(annoTail[i]);
  const b = toPx(annoTip[i]);
  graphics.push({type: 'text', x: lp[0], y: lp[1], z: 100,
    style: {text: t, fill: '#000', font: '31px ' + FONT, align: 'right', verticalAlign: 'middle'}});
  graphics.push({type: 'line', z: 100, shape: {x1: a[0], y1: a[1], x2: b[0], y2: b[1]},
    style: {stroke: '#000', lineWidth: 3}});
  const ang = Math.atan2(a[1] - b[1], a[0] - b[0]);
  const L = 21, spread = 27 * Math.PI / 180;
  const p1 = [b[0] + L * Math.cos(ang + spread), b[1] + L * Math.sin(ang + spread)];
  const p2 = [b[0] + L * Math.cos(ang - spread), b[1] + L * Math.sin(ang - spread)];
  graphics.push({type: 'polyline', z: 100, shape: {points: [p1, b, p2]},
    style: {stroke: '#000', lineWidth: 3, fill: null}});
});
chart.setOption({graphic: graphics});
</script>
</body>
</html>
